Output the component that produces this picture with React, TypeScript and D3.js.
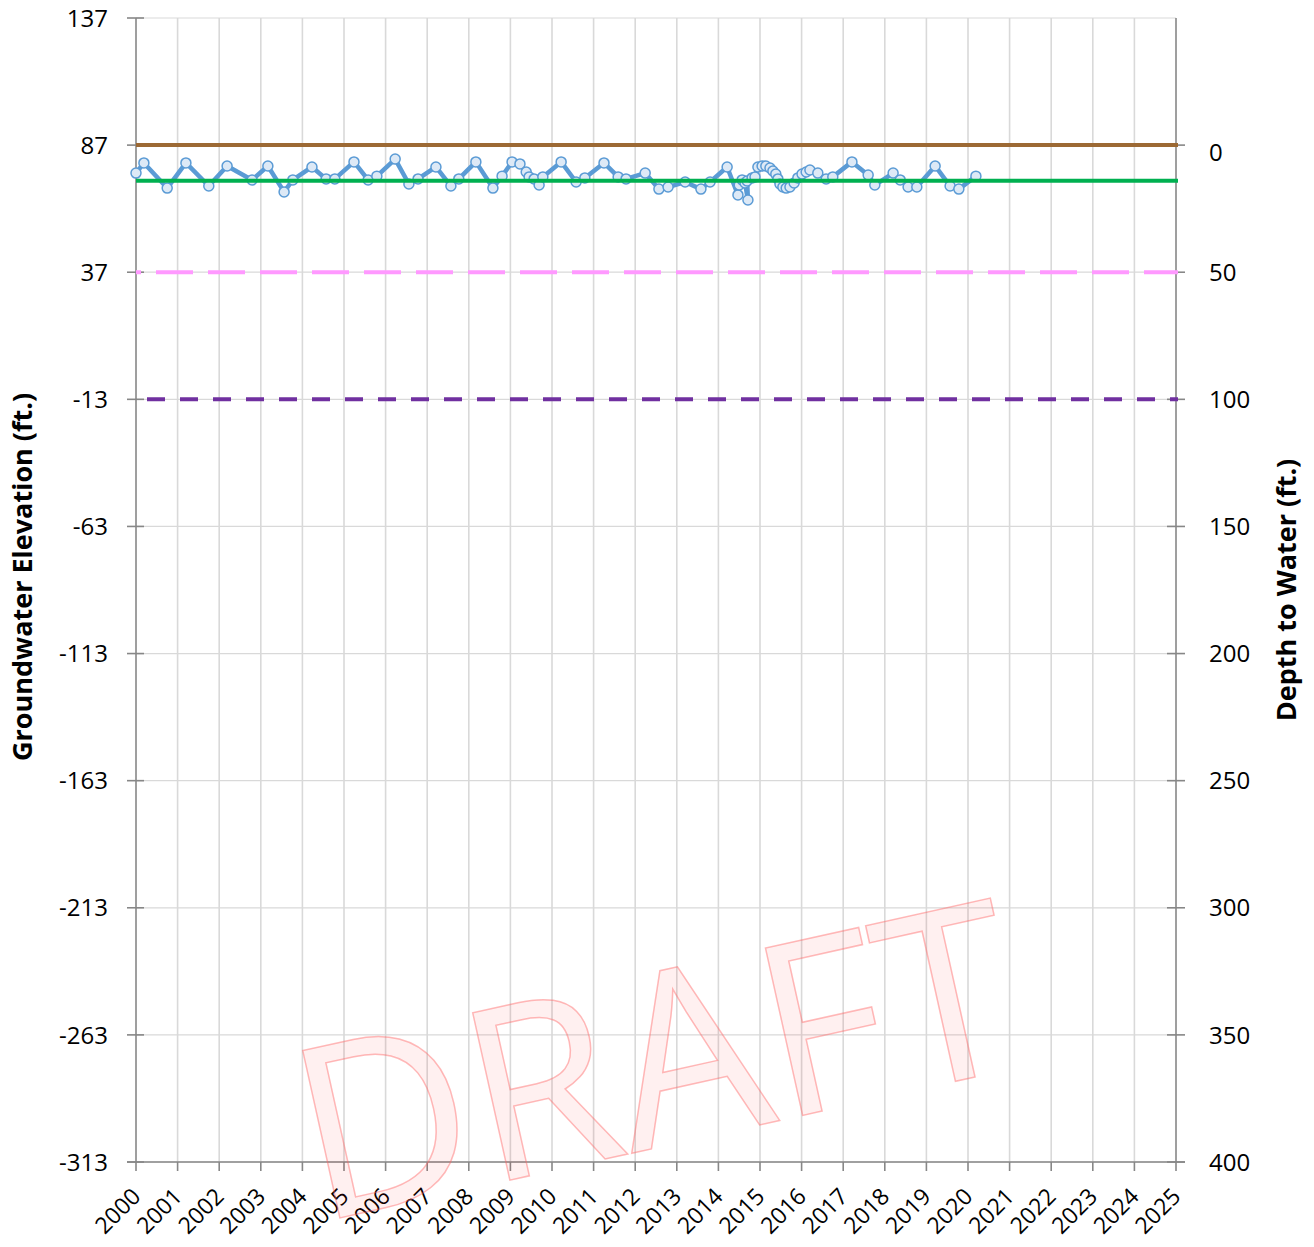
import React from 'react';
import * as d3 from 'd3';

// measured groundwater elevations (decimal year, ft)
const sampleYears = [
  2000.0, 2000.19, 2000.75, 2001.2, 2001.75, 2002.19, 2002.79, 2003.17, 2003.56, 2003.77,
  2004.23, 2004.57, 2004.78, 2005.24, 2005.58, 2005.79, 2006.23, 2006.56, 2006.78, 2007.21,
  2007.57, 2007.76, 2008.17, 2008.58, 2008.8, 2009.04, 2009.23, 2009.38, 2009.45, 2009.57,
  2009.69, 2009.78, 2010.22, 2010.58, 2010.79, 2011.25, 2011.59, 2011.78, 2012.24, 2012.57,
  2012.79, 2013.2, 2013.58, 2013.8, 2014.21, 2014.47, 2014.5, 2014.57, 2014.64, 2014.71,
  2014.69, 2014.81, 2014.88, 2014.95, 2015.05, 2015.14, 2015.24, 2015.31, 2015.38, 2015.43,
  2015.48, 2015.55, 2015.63, 2015.72, 2015.82, 2015.91, 2016.01, 2016.11, 2016.2, 2016.39,
  2016.59, 2016.75, 2017.21, 2017.6, 2017.76, 2018.2, 2018.37, 2018.56, 2018.77, 2019.21,
  2019.57, 2019.78, 2020.19,
];
const elevations = [
  76.0, 80.0, 70.1, 80.0, 70.9, 78.8, 73.3, 78.8, 68.6, 73.3,
  78.4, 73.7, 73.7, 80.4, 73.3, 74.8, 81.5, 71.7, 73.7, 78.4,
  70.9, 73.7, 80.4, 70.1, 74.8, 80.4, 79.6, 76.4, 74.5, 73.7,
  71.3, 74.5, 80.4, 72.5, 74.1, 80.0, 74.5, 73.7, 76.0, 69.7,
  70.5, 72.5, 69.7, 72.5, 78.4, 67.4, 71.3, 73.3, 72.1, 65.4,
  72.9, 74.1, 74.5, 78.4, 78.8, 78.8, 78.0, 76.8, 75.6, 73.7,
  71.7, 70.5, 70.1, 70.5, 72.1, 74.1, 75.6, 76.4, 77.2, 76.0,
  73.7, 74.5, 80.4, 75.2, 71.3, 76.0, 73.3, 70.5, 70.5, 78.8,
  70.9, 69.7, 74.8,
];

const groundSurface = 87;
const greenLevel = 73;
const pinkLevel = 37;
const purpleLevel = -13;

const leftTicks = [137, 87, 37, -13, -63, -113, -163, -213, -263, -313];
const rightTicks = [0, 50, 100, 150, 200, 250, 300, 350, 400];
const yearTicks = d3.range(2000, 2026);

const W = 1314;
const H = 1247;
const left = 136;
const right = 1176;
const top = 18;
const bottom = 1162;

const font = "'Open Sans', 'Liberation Sans', sans-serif";
const axisGray = '#878787';
const gridGray = '#d9d9d9';

export default function App() {
  const x = d3.scaleLinear().domain([2000, 2025]).range([left, right]);
  const y = d3.scaleLinear().domain([-313, 137]).range([bottom, top]);
  const yDepth = d3.scaleLinear().domain([400, -50]).range([bottom, top]);

  const pts = sampleYears.map((t, i) => ({ t, v: elevations[i] }));
  const line = d3.line<{ t: number; v: number }>().x(d => x(d.t)).y(d => y(d.v));

  return (
    <svg width={W} height={H} style={{ position: 'absolute', left: 0, top: 0, background: '#fff' }}>
      {/* grid */}
      {leftTicks.map(t => (
        <line key={'h' + t} x1={left} x2={right} y1={y(t)} y2={y(t)} stroke={gridGray} strokeWidth={1.2} />
      ))}
      {yearTicks.slice(1, -1).map(t => (
        <line key={'v' + t} x1={x(t)} x2={x(t)} y1={top} y2={bottom} stroke={gridGray} strokeWidth={1.6} />
      ))}

      {/* axes */}
      <line x1={left} x2={left} y1={top} y2={bottom} stroke={axisGray} strokeWidth={1.6} />
      <line x1={right} x2={right} y1={top} y2={bottom} stroke={axisGray} strokeWidth={1.6} />
      <line x1={127} x2={1185} y1={bottom} y2={bottom} stroke={axisGray} strokeWidth={1.6} />
      {leftTicks.map(t => (
        <g key={'lt' + t}>
          <line x1={127} x2={144} y1={y(t)} y2={y(t)} stroke={axisGray} strokeWidth={1.6} />
          <text x={108} y={y(t)} dy="0.36em" textAnchor="end" fontFamily={font} fontSize={24} fill="#000">{t}</text>
        </g>
      ))}
      {rightTicks.map(t => (
        <g key={'rt' + t}>
          <line x1={1167} x2={1185} y1={yDepth(t)} y2={yDepth(t)} stroke={axisGray} strokeWidth={1.6} />
          <text x={1209} y={yDepth(t) + (t === 0 ? 7 : 0)} dy="0.36em" textAnchor="start" fontFamily={font} fontSize={24} fill="#000">{t}</text>
        </g>
      ))}
      {yearTicks.map(t => (
        <g key={'xt' + t}>
          <line x1={x(t)} x2={x(t)} y1={bottom} y2={bottom + 9} stroke={axisGray} strokeWidth={1.6} />
          <text transform={`translate(${x(t) + 6},${bottom + 36}) rotate(-45)`} textAnchor="end" fontFamily={font} fontSize={23} fill="#000">{t}</text>
        </g>
      ))}

      {/* reference levels */}
      <line x1={left} x2={right + 2} y1={y(pinkLevel)} y2={y(pinkLevel)} stroke="#ff99ff" strokeWidth={4} strokeDasharray="37 15" strokeDashoffset={32} />
      <line x1={left} x2={right + 2} y1={y(purpleLevel)} y2={y(purpleLevel)} stroke="#7030a0" strokeWidth={4} strokeDasharray="18 15" strokeDashoffset={22} />
      <line x1={left} x2={right + 2} y1={y(groundSurface)} y2={y(groundSurface)} stroke="#9c6934" strokeWidth={4} />

      {/* hydrograph */}
      <path d={line(pts) || ''} fill="none" stroke="#5b9bd5" strokeWidth={4.5} strokeLinejoin="round" />
      {pts.map((p, i) => (
        <circle key={'p' + i} cx={x(p.t)} cy={y(p.v)} r={5} fill="#dde9f6" stroke="#5b9bd5" strokeWidth={1.5} />
      ))}
      <line x1={left} x2={right + 2} y1={y(greenLevel)} y2={y(greenLevel)} stroke="#00b050" strokeWidth={4} />

      {/* axis titles */}
      <text transform="translate(32,577) rotate(-90)" textAnchor="middle" fontFamily={font} fontWeight="bold" fontSize={27} fill="#000">
        Groundwater Elevation (ft.)
      </text>
      <text transform="translate(1296,590) rotate(-90)" textAnchor="middle" fontFamily={font} fontWeight="bold" fontSize={27} fill="#000">
        Depth to Water (ft.)
      </text>

      {/* watermark */}
      <text transform="translate(655,1061) rotate(-12.5)" y={85} textAnchor="middle" fontFamily={font} fontSize={240}
        fill="#ff0000" fillOpacity={0.06} stroke="#ff6666" strokeOpacity={0.45} strokeWidth={1.5}>
        DRAFT
      </text>
    </svg>
  );
}
